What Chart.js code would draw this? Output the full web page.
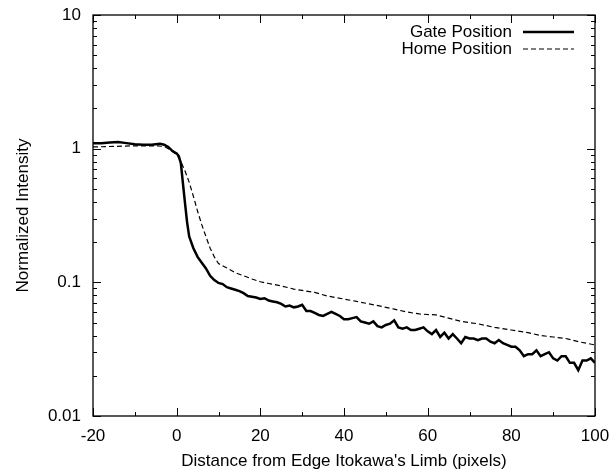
<!DOCTYPE html>
<html>
<head>
<meta charset="utf-8">
<script src="https://cdn.jsdelivr.net/npm/chart.js@4"></script>
<style>
html, body { margin: 0; padding: 0; background: #fff; }
#wrap { width: 613px; height: 472px; }
</style>
</head>
<body>
<div id="wrap"><canvas id="profileChart" width="613" height="472"></canvas></div>
<script>
// Données
const gateX = [-20, -18, -16, -14, -12, -10, -8, -6, -5, -4, -3, -2, -1, 0, 0.5, 1, 1.5, 2, 2.5, 3, 4, 5, 6, 7, 8, 9, 10,
  11, 12, 13, 14, 15, 16, 17, 18, 19, 20, 21, 22, 23, 24, 25, 26, 27, 28, 29, 30, 31, 32, 33, 34, 35, 36, 37, 38, 39, 40,
  41, 42, 43, 44, 45, 46, 47, 48, 49, 50, 51, 52, 53, 54, 55, 56, 57, 58, 59, 60, 61, 62, 63, 64, 65, 66, 67, 68, 69, 70,
  71, 72, 73, 74, 75, 76, 77, 78, 79, 80, 81, 82, 83, 84, 85, 86, 87, 88, 89, 90, 91, 92, 93, 94, 95, 96, 97, 98, 99, 100];
const gateY = [1.10, 1.10, 1.11, 1.12, 1.10, 1.08, 1.07, 1.07, 1.08, 1.09, 1.07, 1.03, 0.96, 0.92, 0.88, 0.78, 0.55, 0.39, 0.28, 0.22, 0.18, 0.155, 0.14, 0.127, 0.112, 0.104, 0.099,
  0.097, 0.092, 0.090, 0.088, 0.086, 0.083, 0.079, 0.078, 0.077, 0.075, 0.076, 0.073, 0.072, 0.071, 0.069, 0.066, 0.067, 0.065, 0.066, 0.068, 0.061, 0.061, 0.059, 0.057, 0.056, 0.058, 0.060, 0.058, 0.056, 0.053,
  0.053, 0.054, 0.055, 0.051, 0.050, 0.049, 0.051, 0.047, 0.046, 0.048, 0.049, 0.052, 0.046, 0.045, 0.046, 0.044, 0.044, 0.045, 0.046, 0.043, 0.041, 0.044, 0.039, 0.042, 0.038, 0.041, 0.038, 0.035, 0.039, 0.038,
  0.038, 0.037, 0.038, 0.038, 0.036, 0.035, 0.037, 0.035, 0.034, 0.033, 0.033, 0.031, 0.028, 0.029, 0.029, 0.031, 0.028, 0.029, 0.030, 0.027, 0.026, 0.028, 0.028, 0.025, 0.025, 0.022, 0.026, 0.026, 0.027, 0.025];

const homeX = [-20, -15, -10, -5, -3, -2, -1, 0, 1, 2, 3, 4, 5, 6, 7, 8, 9, 10, 12, 14, 16, 18, 20, 22, 25, 28, 30, 33, 36, 40,
  43, 46, 49, 52, 55, 58, 62, 65, 68, 72, 76, 80, 84, 87, 90, 93, 96, 100];
const homeY = [1.03, 1.04, 1.05, 1.05, 1.04, 1.00, 0.95, 0.90, 0.80, 0.68, 0.56, 0.44, 0.34, 0.27, 0.22, 0.18, 0.155, 0.138, 0.128, 0.118, 0.112, 0.106, 0.101, 0.098, 0.094, 0.089, 0.087, 0.084, 0.079, 0.075,
  0.072, 0.069, 0.066, 0.063, 0.060, 0.058, 0.057, 0.054, 0.051, 0.049, 0.046, 0.044, 0.042, 0.040, 0.039, 0.038, 0.036, 0.034];

const xTicks = [-20, 0, 20, 40, 60, 80, 100];
const yTicks = [0.01, 0.1, 1, 10];
const seriesNames = ['Gate Position', 'Home Position'];

const FONT = '"Liberation Sans", Arial, sans-serif';

// Cadre, graduations intérieures et légende façon gnuplot
const frame = {
    id: 'frame',
    afterDatasetsDraw(chart) {
        const { ctx, chartArea: a, scales: { x, y } } = chart;
        ctx.save();
        ctx.strokeStyle = '#000';
        ctx.lineWidth = 1.3;
        ctx.strokeRect(a.left, a.top, a.right - a.left, a.bottom - a.top);
        ctx.lineWidth = 1;
        ctx.beginPath();
        for (let v = -20; v <= 100; v += 10) {
            const px = Math.round(x.getPixelForValue(v)) + 0.5;
            const len = v % 20 === 0 ? 8 : 4;
            ctx.moveTo(px, a.bottom); ctx.lineTo(px, a.bottom - len);
            ctx.moveTo(px, a.top); ctx.lineTo(px, a.top + len);
        }
        for (let d = 0.01; d < 10; d *= 10) {
            for (let m = 1; m <= 10; m++) {
                const py = Math.round(y.getPixelForValue(d * m)) + 0.5;
                const len = (m === 1 || m === 10) ? 8 : 4;
                ctx.moveTo(a.left, py); ctx.lineTo(a.left + len, py);
                ctx.moveTo(a.right, py); ctx.lineTo(a.right - len, py);
            }
        }
        ctx.stroke();

        // légende
        ctx.font = '17px ' + FONT;
        ctx.fillStyle = '#000';
        ctx.textAlign = 'right';
        ctx.textBaseline = 'middle';
        const rows = [a.top + 17, a.top + 34];
        chart.data.datasets.forEach((ds, i) => {
            ctx.fillText(seriesNames[i], a.right - 83, rows[i]);
            ctx.beginPath();
            ctx.lineWidth = ds.borderWidth;
            ctx.setLineDash(ds.borderDash || []);
            ctx.moveTo(a.right - 72, rows[i]);
            ctx.lineTo(a.right - 21, rows[i]);
            ctx.stroke();
        });
        ctx.restore();
    }
};

new Chart(document.getElementById('profileChart'), {
    type: 'line',
    data: {
        datasets: [{
            label: seriesNames[0],
            data: gateX.map((v, i) => ({ x: v, y: gateY[i] })),
            borderColor: '#000',
            borderWidth: 2.5,
            pointRadius: 0,
            tension: 0
        }, {
            label: seriesNames[1],
            data: homeX.map((v, i) => ({ x: v, y: homeY[i] })),
            borderColor: '#000',
            borderWidth: 1.2,
            borderDash: [5, 3],
            pointRadius: 0,
            tension: 0
        }]
    },
    options: {
        responsive: false,
        animation: false,
        layout: { padding: { left: 13, right: 18, top: 15, bottom: 0 } },
        plugins: { legend: { display: false }, tooltip: { enabled: false } },
        scales: {
            x: {
                type: 'linear',
                min: -20, max: 100,
                afterBuildTicks: s => { s.ticks = xTicks.map(v => ({ value: v })); },
                afterFit: s => { s.height = 56; s.paddingLeft = 0; s.paddingRight = 0; },
                grid: { display: false, drawTicks: false },
                border: { display: false },
                ticks: { color: '#000', font: { family: FONT, size: 17 }, padding: 10, maxRotation: 0 },
                title: { display: true, text: "Distance from Edge Itokawa's Limb (pixels)", color: '#000',
                    font: { family: FONT, size: 17 }, padding: { top: 4, bottom: 0 } }
            },
            y: {
                type: 'logarithmic',
                min: 0.01, max: 10,
                afterBuildTicks: s => { s.ticks = yTicks.map(v => ({ value: v })); },
                afterFit: s => { s.width = 80; s.paddingTop = 0; s.paddingBottom = 0; },
                grid: { display: false, drawTicks: false },
                border: { display: false },
                ticks: { color: '#000', font: { family: FONT, size: 17 }, padding: 12,
                    callback: v => String(v) },
                title: { display: true, text: 'Normalized Intensity', color: '#000',
                    font: { family: FONT, size: 17 }, padding: { top: 0, bottom: 0 } }
            }
        }
    },
    plugins: [frame]
});
</script>
</body>
</html>
